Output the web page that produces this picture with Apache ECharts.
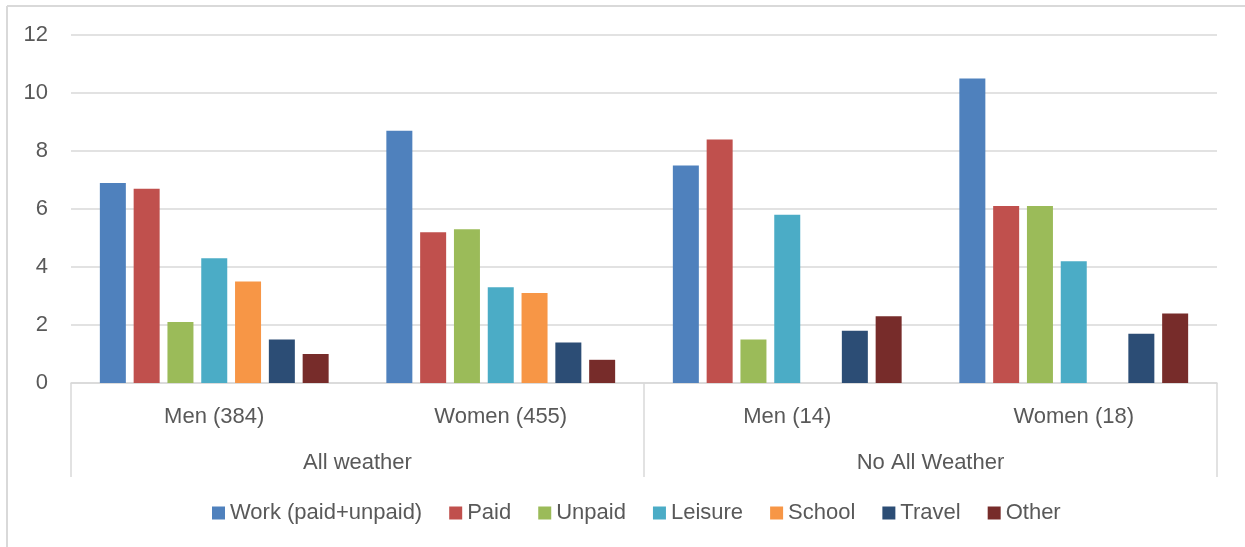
<!DOCTYPE html>
<html>
<head>
<meta charset="utf-8">
<title>Time use by group</title>
<script src="https://cdn.jsdelivr.net/npm/echarts@6/dist/echarts.min.js"></script>
<style>
  html, body { margin: 0; padding: 0; background: #fff; }
  #chart { width: 1245px; height: 547px; }
</style>
</head>
<body>
<div id="chart"></div>
<script>
// categories (inner level) and groups (outer level)
var categories = ["Men (384)", "Women (455)", "Men (14)", "Women (18)"];
var groups = ["All weather", "No All Weather"];

// series values, one per category
var work = [6.9, 8.7, 7.5, 10.5];
var paid = [6.7, 5.2, 8.4, 6.1];
var unpaid = [2.1, 5.3, 1.5, 6.1];
var leisure = [4.3, 3.3, 5.8, 4.2];
var school = [3.5, 3.1, null, null];
var travel = [1.5, 1.4, 1.8, 1.7];
var other = [1.0, 0.8, 2.3, 2.4];

var seriesNames = ["Work (paid+unpaid)", "Paid", "Unpaid", "Leisure", "School", "Travel", "Other"];
var seriesData = [work, paid, unpaid, leisure, school, travel, other];
var colors = ["#4f81bd", "#c0504d", "#9bbb59", "#4bacc6", "#f79646", "#2c4d75", "#772c2a"];

var textColor = "#595959";
var lineColor = "#d9d9d9";
var font = "Liberation Sans";

var chart = echarts.init(document.getElementById("chart"));

var option = {
  animation: false,
  color: colors,
  textStyle: { fontFamily: font },
  grid: { left: 71, right: 28, top: 35, bottom: 164 },
  legend: {
    data: seriesNames,
    left: 207,
    top: 497,
    itemWidth: 13,
    itemHeight: 13,
    itemGap: 27,
    icon: "rect",
    textStyle: { color: textColor, fontSize: 22, fontFamily: font }
  },
  xAxis: [
    {
      type: "category",
      data: categories,
      axisLine: { lineStyle: { color: lineColor, width: 1.5 } },
      axisTick: { show: false },
      axisLabel: { color: textColor, fontSize: 22, margin: 23 }
    },
    {
      // outer level of the category axis
      type: "category",
      data: groups,
      position: "bottom",
      axisLine: { show: false },
      axisTick: { show: true, length: 94, lineStyle: { color: lineColor, width: 1.5 } },
      axisLabel: { color: textColor, fontSize: 22, margin: 69 },
      splitLine: { show: false }
    }
  ],
  yAxis: {
    type: "value",
    min: 0,
    max: 12,
    interval: 2,
    axisLine: { show: false },
    axisTick: { show: false },
    axisLabel: { color: textColor, fontSize: 22, margin: 23 },
    splitLine: { lineStyle: { color: lineColor, width: 1.5 } }
  },
  series: seriesNames.map(function (name, i) {
    return {
      name: name,
      type: "bar",
      xAxisIndex: 0,
      data: seriesData[i],
      barWidth: 26,
      barGap: "30%"
    };
  }),
  graphic: [
    // chart frame (top and left edges are visible in the picture)
    { type: "line", shape: { x1: 7, y1: 6, x2: 1245, y2: 6 }, style: { stroke: lineColor, lineWidth: 2 } },
    { type: "line", shape: { x1: 7, y1: 6, x2: 7, y2: 547 }, style: { stroke: lineColor, lineWidth: 2 } }
  ]
};

chart.setOption(option);
</script>
</body>
</html>
